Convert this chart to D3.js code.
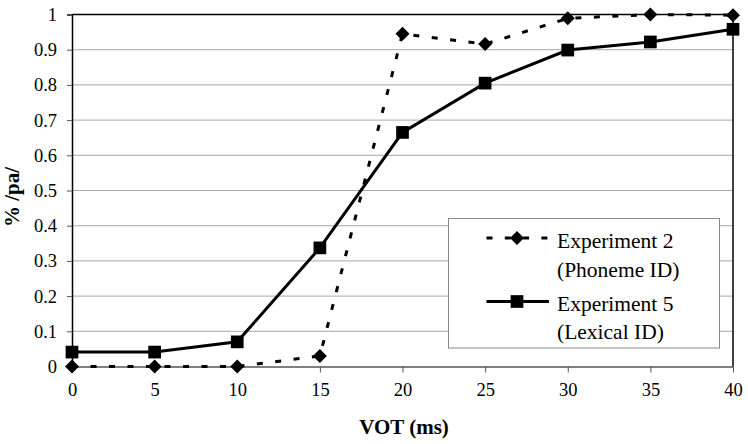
<!DOCTYPE html>
<html><head><meta charset="utf-8">
<script src="https://cdnjs.cloudflare.com/ajax/libs/d3/7.8.5/d3.min.js"></script>
</head><body style="margin:0"><svg id="c" width="748" height="444" font-family="Liberation Serif"></svg>
<script>
const vot = [0, 5, 10, 15, 20, 25, 30, 35, 40];
const exp2 = [0, 0, 0, 0.03, 0.945, 0.916, 0.989, 1.0, 0.998];
const exp5 = [0.041, 0.041, 0.07, 0.337, 0.665, 0.805, 0.899, 0.922, 0.958];
const yTicks = [0, 0.1, 0.2, 0.3, 0.4, 0.5, 0.6, 0.7, 0.8, 0.9, 1];
const yTickLabels = ["0", "0.1", "0.2", "0.3", "0.4", "0.5", "0.6", "0.7", "0.8", "0.9", "1"];
const xTicks = [0, 5, 10, 15, 20, 25, 30, 35, 40];
const seriesNames = [["Experiment 2", "(Phoneme ID)"], ["Experiment 5", "(Lexical ID)"]];

const svg = d3.select("#c");
const font = '"Liberation Serif", "Times New Roman", Tinos, serif';
const L = 72, R = 733, T = 14.5, B = 366.5;
const x = d3.scaleLinear().domain([0, 40]).range([L, R]);
const y = d3.scaleLinear().domain([0, 1]).range([B, T]);

function txt(sel, size, bold) {
  sel.attr("font-family", "Liberation Serif").style("font-family", font, "important")
    .attr("font-size", size).style("font-size", size + "px", "important").attr("fill", "#000");
  if (bold) sel.style("font-weight", "bold", "important");
  return sel;
}

const diamondType = { draw(ctx, size) { const r = Math.sqrt(size) / 2; ctx.moveTo(0, -r); ctx.lineTo(r, 0); ctx.lineTo(0, r); ctx.lineTo(-r, 0); ctx.closePath(); } };
const diamondSym = d3.symbol().type(diamondType).size(14 * 14);
const squareSym = d3.symbol().type(d3.symbolSquare).size(12.7 * 12.7);

svg.append("rect").attr("width", 748).attr("height", 444).attr("fill", "#fff");

// gridlines
svg.append("g").selectAll("line").data(yTicks.slice(1, -1)).join("line")
  .attr("x1", L).attr("x2", R).attr("y1", d => y(d)).attr("y2", d => y(d))
  .attr("stroke", "#a8a8a8").attr("stroke-width", 1);

// top and right border
svg.append("line").attr("x1", L).attr("x2", R).attr("y1", T).attr("y2", T).attr("stroke", "#000").attr("stroke-width", 1.5);
svg.append("line").attr("x1", R).attr("x2", R).attr("y1", T).attr("y2", B).attr("stroke", "#000").attr("stroke-width", 1.5);

// axes
const yAxis = d3.axisLeft(y).tickValues(yTicks).tickFormat((d, i) => yTickLabels[i]).tickSize(5).tickPadding(10);
const gy = svg.append("g").attr("transform", `translate(${L},0)`).call(yAxis);
gy.attr("font-family", "Liberation Serif").attr("font-size", 18.5);
gy.select(".domain").attr("stroke", "#000").attr("stroke-width", 1.5);
gy.selectAll(".tick line").attr("stroke", "#555");
txt(gy.selectAll("text"), 18.5);

const xAxis = d3.axisBottom(x).tickValues(xTicks).tickSize(6).tickPadding(10).tickSizeOuter(0);
const gx = svg.append("g").attr("transform", `translate(0,${B})`).call(xAxis);
gx.attr("font-family", "Liberation Serif").attr("font-size", 18.5);
gx.select(".domain").attr("stroke", "#555").attr("stroke-width", 1.5);
gx.selectAll(".tick line").attr("stroke", "#555");
txt(gx.selectAll("text"), 18.5);

// axis titles
txt(svg.append("text").attr("x", 404).attr("y", 434).attr("text-anchor", "middle"), 21, true).text("VOT (ms)");
txt(svg.append("text").attr("transform", `translate(19,197) rotate(-90)`).attr("text-anchor", "middle"), 21, true).text("% /pa/");

const line = d3.line().x((d, i) => x(vot[i])).y(d => y(d));

// exp5 solid
svg.append("path").attr("d", line(exp5)).attr("fill", "none").attr("stroke", "#000").attr("stroke-width", 3);
svg.append("g").selectAll("path").data(exp5).join("path")
  .attr("d", squareSym)
  .attr("transform", (d, i) => `translate(${x(vot[i])},${y(d)})`).attr("fill", "#000");

// exp2 dashed
svg.append("path").attr("d", line(exp2)).attr("fill", "none").attr("stroke", "#000").attr("stroke-width", 3)
  .attr("stroke-dasharray", "6,12.5");
svg.append("g").selectAll("path").data(exp2).join("path")
  .attr("d", diamondSym)
  .attr("transform", (d, i) => `translate(${x(vot[i])},${y(d)})`).attr("fill", "#000");

// legend
const lg = svg.append("g");
lg.append("rect").attr("x", 448.5).attr("y", 218.5).attr("width", 271).attr("height", 129.5)
  .attr("fill", "#fff").attr("stroke", "#888").attr("stroke-width", 1);
const ly = [238, 301.5];
lg.append("line").attr("x1", 486.5).attr("x2", 549).attr("y1", ly[0]).attr("y2", ly[0])
  .attr("stroke", "#000").attr("stroke-width", 3).attr("stroke-dasharray", "6,12.3");
lg.append("path").attr("d", diamondSym).attr("transform", `translate(517,${ly[0]})`);
lg.append("line").attr("x1", 486.5).attr("x2", 549).attr("y1", ly[1]).attr("y2", ly[1])
  .attr("stroke", "#000").attr("stroke-width", 3);
lg.append("path").attr("d", squareSym).attr("transform", `translate(517,${ly[1]})`);
const baselines = [[247.5, 277], [310.5, 339]];
seriesNames.forEach((nm, i) => {
  txt(lg.append("text").attr("x", 557).attr("y", baselines[i][0]), 21.5).text(nm[0]);
  txt(lg.append("text").attr("x", 557).attr("y", baselines[i][1]), 21.5).text(nm[1]);
});
</script></body></html>
